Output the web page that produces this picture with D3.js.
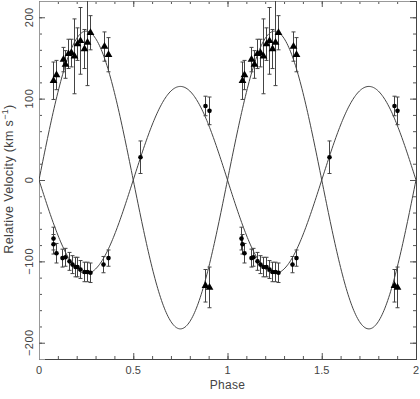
<!DOCTYPE html>
<html>
<head>
<meta charset="utf-8">
<script src="https://cdn.jsdelivr.net/npm/d3@7"></script>
<style>
  body { margin: 0; background: #fff; }
  text { font-family: "Liberation Sans", Arial, sans-serif; fill: #444; }
</style>
</head>
<body>
<div id="chart"></div>
<script>
// primary (triangles) - phase, velocity, error
const triPhase = [0.076, 0.090, 0.125, 0.138, 0.155, 0.172, 0.187, 0.204, 0.219, 0.237, 0.253, 0.268, 0.345, 0.365, 0.882, 0.900];
const triVel   = [122, 129, 148, 142, 155, 156, 152, 167, 171, 161, 169, 181, 164, 154, -130, -132];
const triErr   = [23, 18, 15, 17, 18, 17, 46, 20, 41, 24, 53, 21, 18, 21, 20, 25];

// secondary (circles)
const circPhase = [0.074, 0.076, 0.090, 0.124, 0.136, 0.158, 0.173, 0.189, 0.202, 0.218, 0.237, 0.253, 0.269, 0.341, 0.366, 0.537, 0.882, 0.900];
const circVel   = [-72, -79, -90, -96, -95, -100, -104, -107, -107, -110, -113, -113, -114, -104, -96, 28, 91, 85];
const circErr   = [14, 12, 12, 11, 11, 11, 11, 12, 12, 11, 12, 12, 12, 10, 10, 20, 12, 17];

// orbit fit semi-amplitudes (km/s), systemic velocity 0
const K1 = 183;
const K2 = -115;

const xTicks = [0, 0.5, 1, 1.5, 2];
const yTicks = [-200, -100, 0, 100, 200];

const width = 420, height = 399;
const margin = {top: 1, right: 4, bottom: 40, left: 39};

const svg = d3.select("#chart").append("svg")
    .attr("width", width)
    .attr("height", height);

const x = d3.scaleLinear().domain([0, 2]).range([margin.left, width - margin.right]);
const y = d3.scaleLinear().domain([-220, 220]).range([height - margin.bottom, margin.top]);

svg.append("clipPath").attr("id", "clip")
  .append("rect")
    .attr("x", x(0)).attr("y", y(220))
    .attr("width", x(2) - x(0)).attr("height", y(-220) - y(220));

// frame + ticks
const minorX = d3.range(0, 2.0001, 0.1).map(d => +d.toFixed(1));
const minorY = d3.range(-220, 220.001, 20);

function tickAxis(axisFn, scale, ticks, size, tf, col) {
    let g = svg.append("g").attr("transform", tf)
        .call(axisFn(scale).tickValues(ticks).tickSize(size).tickFormat(""));
    g.select(".domain").attr("stroke", col || "#444");
    g.selectAll(".tick line").attr("stroke", "#555");
    return g;
}

const bottomT = "translate(0," + y(-220) + ")";
const topT = "translate(0," + y(220) + ")";
const leftT = "translate(" + x(0) + ",0)";
const rightT = "translate(" + x(2) + ",0)";

tickAxis(d3.axisBottom, x, minorX, -3, bottomT);
tickAxis(d3.axisBottom, x, xTicks, -6, bottomT);
tickAxis(d3.axisTop, x, minorX, -3, topT, "#999");
tickAxis(d3.axisTop, x, xTicks, -6, topT, "#999");
tickAxis(d3.axisLeft, y, minorY, -3, leftT, "#999");
tickAxis(d3.axisLeft, y, yTicks, -6, leftT, "#999");
tickAxis(d3.axisRight, y, minorY, -3, rightT);
tickAxis(d3.axisRight, y, yTicks, -6, rightT);

// tick labels
svg.selectAll(".xlab").data(xTicks).enter().append("text")
    .attr("x", d => x(d))
    .attr("y", y(-220) + 15)
    .attr("text-anchor", "middle")
    .style("font-size", "11px")
    .text(d => String(d));

svg.selectAll(".ylab").data(yTicks).enter().append("text")
    .attr("transform", d => "translate(33," + y(d) + ") rotate(-90)")
    .attr("text-anchor", "middle")
    .style("font-size", "11px")
    .style("letter-spacing", "0.5px")
    .text(d => d3.format("d")(d));

// axis titles
svg.append("text")
    .attr("x", (x(0) + x(2)) / 2)
    .attr("y", 389)
    .attr("text-anchor", "middle")
    .style("font-size", "12px")
    .style("letter-spacing", "0.3px")
    .text("Phase");

let yTitle = svg.append("text")
    .attr("transform", "translate(13," + (y(0) - 1) + ") rotate(-90)")
    .attr("text-anchor", "middle")
    .style("font-size", "12.5px")
    .style("letter-spacing", "0.35px");
yTitle.append("tspan").text("Relative Velocity (km s");
yTitle.append("tspan").attr("dy", -5).style("font-size", "9px").text("\u22121");
yTitle.append("tspan").attr("dy", 5).text(")");

// fitted curves
const plot = svg.append("g").attr("clip-path", "url(#clip)");
const phases = d3.range(0, 2.0001, 0.005);
const line = d3.line().x(d => x(d[0])).y(d => y(d[1]));

[K1, K2].forEach(K => {
    plot.append("path")
        .datum(phases.map(p => [p, K * Math.sin(2 * Math.PI * p)]))
        .attr("d", line)
        .attr("fill", "none")
        .attr("stroke", "#444")
        .attr("stroke-width", 1);
});

// data repeated over two cycles
function cycle(ph, vel, err) {
    let out = [];
    [0, 1].forEach(k => {
        for (let i = 0; i < ph.length; i++) {
            out.push({p: ph[i] + k, v: vel[i], e: err[i]});
        }
    });
    return out;
}
const triData = cycle(triPhase, triVel, triErr);
const circData = cycle(circPhase, circVel, circErr);

function errorBars(data) {
    let g = plot.append("g").attr("stroke", "#444").attr("stroke-width", 1);
    data.forEach(d => {
        let cx = Math.round(x(d.p)) + 0.5;
        g.append("line").attr("x1", cx).attr("x2", cx)
            .attr("y1", y(d.v - d.e)).attr("y2", y(d.v + d.e));
        [d.v - d.e, d.v + d.e].forEach(v => {
            g.append("line").attr("x1", cx - 2).attr("x2", cx + 2)
                .attr("y1", y(v)).attr("y2", y(v));
        });
    });
}
errorBars(triData);
errorBars(circData);

plot.selectAll(".tri").data(triData).enter().append("path")
    .attr("d", d3.symbol().type(d3.symbolTriangle).size(26))
    .attr("transform", d => "translate(" + (Math.round(x(d.p)) + 0.5) + "," + y(d.v) + ")")
    .attr("fill", "#000");

plot.selectAll(".dot").data(circData).enter().append("circle")
    .attr("cx", d => Math.round(x(d.p)) + 0.5)
    .attr("cy", d => y(d.v))
    .attr("r", 2.3)
    .attr("fill", "#000");
</script>
</body>
</html>
